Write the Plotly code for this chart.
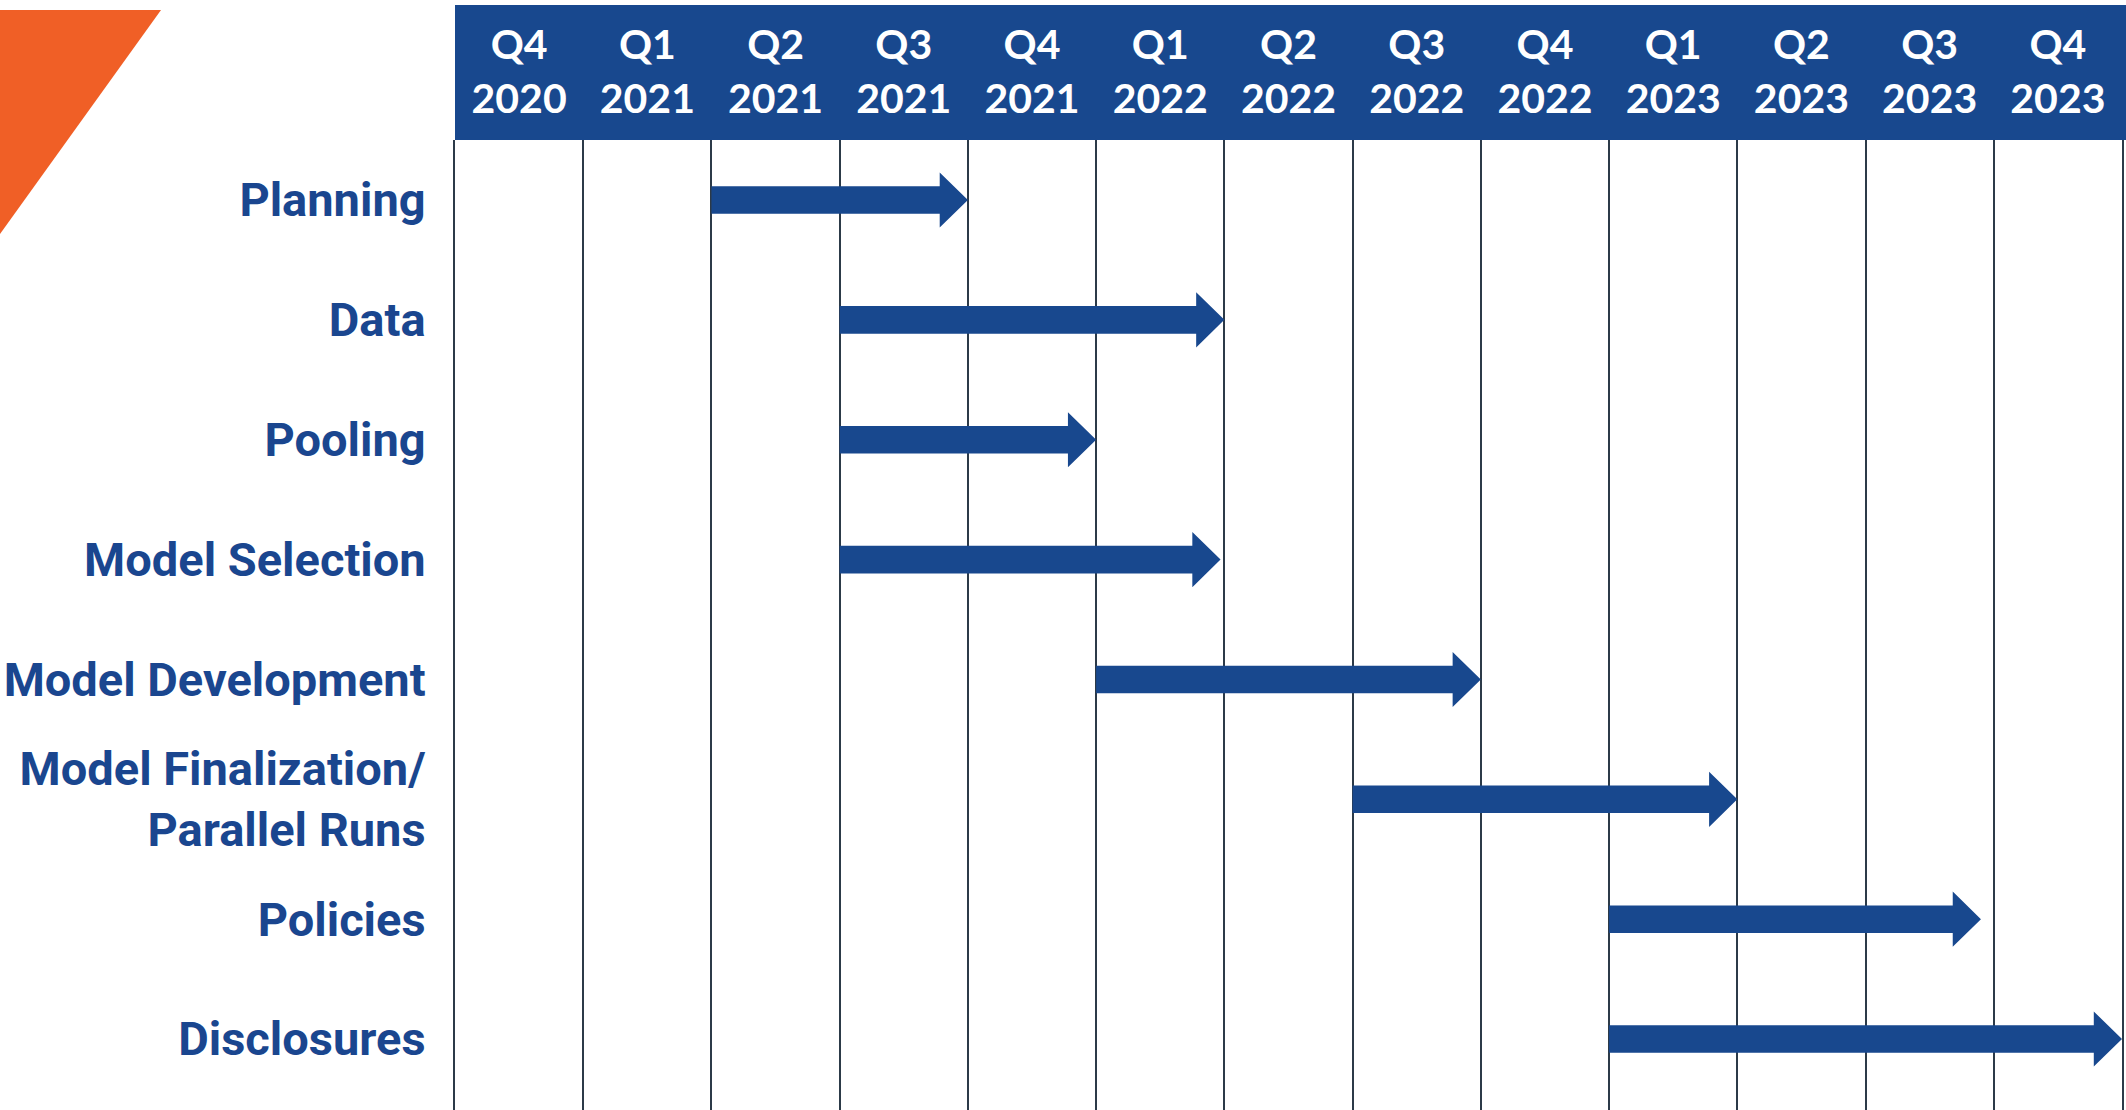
import plotly.graph_objects as go

# ---- data ----
quarters = ["Q4 2020", "Q1 2021", "Q2 2021", "Q3 2021", "Q4 2021",
            "Q1 2022", "Q2 2022", "Q3 2022", "Q4 2022",
            "Q1 2023", "Q2 2023", "Q3 2023", "Q4 2023"]
tasks = ["Planning", "Data", "Pooling", "Model Selection", "Model Development",
         "Model Finalization/<br>Parallel Runs", "Policies", "Disclosures"]
# start / end in quarter units (0 = start of Q4 2020)
task_start = [2, 3, 3, 3, 5, 7, 9, 9]
task_end = [4, 6, 5, 5.97, 8, 10, 11.9, 13]

# ---- style ----
W, H = 2126, 1110
ML, MR, MT, MB = 455, 4, 140, 0
PW, PH = W - ML - MR, H - MT - MB
BLUE = "#18488E"
LABEL_BLUE = "#1A468F"
ORANGE = "#F05F26"
GRID = "#2C3A48"
SHAFT_HALF = 0.115   # y units
HEAD_HALF = 0.23     # y units
HEAD_LEN = 0.22      # x units

def px_to_paper_x(px):
    return (px - ML) / PW

def px_to_paper_y(py):
    return 1 + (MT - py) / PH

# arrows as polygons in data coordinates
xs, ys = [], []
for i, (s, e) in enumerate(zip(task_start, task_end)):
    hb = e - HEAD_LEN
    xs += [s, hb, hb, e, hb, hb, s, s, None]
    ys += [i - SHAFT_HALF, i - SHAFT_HALF, i - HEAD_HALF, i,
           i + HEAD_HALF, i + SHAFT_HALF, i + SHAFT_HALF, i - SHAFT_HALF, None]

fig = go.Figure()
fig.add_trace(go.Scatter(
    x=xs, y=ys, mode="lines", fill="toself", fillcolor=BLUE,
    line=dict(width=0, color=BLUE), hoverinfo="skip", showlegend=False))

# header band
fig.add_shape(type="rect", xref="paper", yref="paper",
              x0=0, x1=px_to_paper_x(W), y0=1, y1=px_to_paper_y(5),
              fillcolor=BLUE, line=dict(width=0), layer="below")
# orange corner triangle
ox = [px_to_paper_x(p) for p in (0, 161, 0)]
oy = [px_to_paper_y(p) for p in (10, 10, 234)]
fig.add_shape(type="path", xref="paper", yref="paper",
              path=f"M {ox[0]},{oy[0]} L {ox[1]},{oy[1]} L {ox[2]},{oy[2]} Z",
              fillcolor=ORANGE, line=dict(width=0), layer="below")

fig.update_layout(
    width=W, height=H,
    margin=dict(l=ML, r=MR, t=MT, b=MB, pad=0, autoexpand=False),
    plot_bgcolor="white", paper_bgcolor="white",
    showlegend=False,
    xaxis=dict(
        range=[0, len(quarters)], side="top",
        tickmode="array",
        tickvals=[i + 0.5 for i in range(len(quarters))],
        ticktext=[q.replace(" ", "<br>") for q in quarters],
        tickfont=dict(family="Lato, Open Sans, sans-serif", size=41,
                      color="white", weight="bold"),
        ticks="", ticklabelstandoff=18, automargin=False,
        showgrid=False, zeroline=False, showline=False,
        minor=dict(tickmode="linear", tick0=0, dtick=1, showgrid=True,
                   gridcolor=GRID, gridwidth=2, ticks=""),
        fixedrange=True,
    ),
    yaxis=dict(
        range=[7.592, -0.5006],
        tickmode="array", tickvals=list(range(len(tasks))), ticktext=tasks,
        tickfont=dict(family="Roboto, Liberation Sans, sans-serif",
                      size=47, color=LABEL_BLUE, weight="bold"),
        ticks="", ticklabelstandoff=18, automargin=False,
        showgrid=False, zeroline=False,
        showline=True, linecolor=GRID, linewidth=2, mirror=True,
        fixedrange=True,
    ),
)

fig.write_html("out.html", config={"displayModeBar": False},
               post_script="document.body.style.margin='0';")
